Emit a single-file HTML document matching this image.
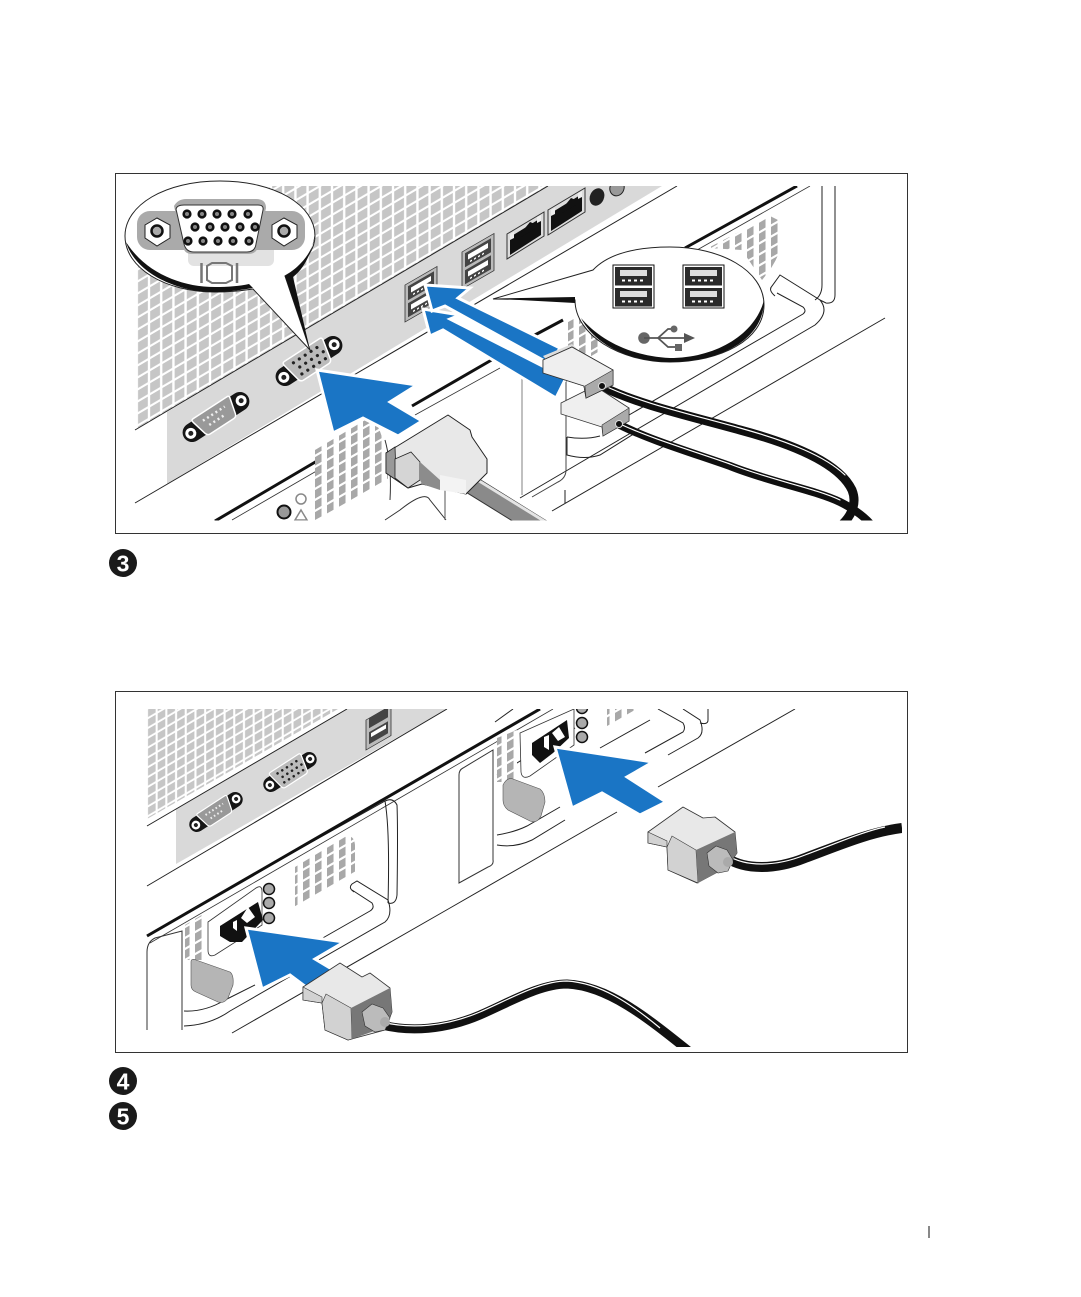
<!DOCTYPE html>
<html><head><meta charset="utf-8"><style>
html,body{margin:0;padding:0;background:#fff}
svg{display:block}
text{font-family:"Liberation Sans",sans-serif;font-weight:bold}
</style></head><body>
<svg xmlns="http://www.w3.org/2000/svg" width="1081" height="1297" viewBox="0 0 1081 1297">
<defs>
<pattern id="v" width="12.2" height="12" patternUnits="userSpaceOnUse" patternTransform="translate(137 186) skewY(-30.5)">
<rect width="12.2" height="12" fill="#fff"/><rect x="1" y="1" width="9.8" height="9.6" fill="#c6c6c6"/>
</pattern>
<pattern id="v2" width="9.7" height="9.8" patternUnits="userSpaceOnUse" patternTransform="translate(147 709) skewY(-30.5)">
<rect width="9.7" height="9.8" fill="#fff"/><rect x="1" y="1" width="7.6" height="7.6" fill="#c6c6c6"/>
</pattern>
<pattern id="vp" width="12" height="11" patternUnits="userSpaceOnUse" patternTransform="skewY(-30)">
<rect width="12" height="11" fill="#fff"/><rect x="3" y="1" width="6.5" height="8.5" fill="#a8a8a8"/>
</pattern>
<clipPath id="c1"><rect x="122" y="186" width="778" height="334.500"/></clipPath>
<clipPath id="c2"><rect x="122" y="709" width="780" height="338"/></clipPath>
<g id="vga">
<rect x="-38" y="-9.500" width="76" height="19" rx="9.500" fill="#151515"/>
<circle cx="-30" cy="0" r="5.500" fill="#fff"/><circle cx="-30" cy="0" r="2.500" fill="#222"/>
<circle cx="30" cy="0" r="5.500" fill="#fff"/><circle cx="30" cy="0" r="2.500" fill="#222"/>
<path d="M-21-13H21Q24-13 23-9L19 10Q18 13 15 13H-15Q-18 13-19 10L-23-9Q-24-13-21-13Z" fill="#bbb" stroke="#fff" stroke-width="1.500"/>
<g fill="#222"><circle cx="-14" cy="-7" r="1.600"/><circle cx="-7" cy="-7" r="1.600"/><circle cx="0" cy="-7" r="1.600"/><circle cx="7" cy="-7" r="1.600"/><circle cx="14" cy="-7" r="1.600"/>
<circle cx="-11" cy="0" r="1.600"/><circle cx="-4" cy="0" r="1.600"/><circle cx="3" cy="0" r="1.600"/><circle cx="10" cy="0" r="1.600"/><circle cx="17" cy="0" r="1.600"/>
<circle cx="-13" cy="7" r="1.600"/><circle cx="-6" cy="7" r="1.600"/><circle cx="1" cy="7" r="1.600"/><circle cx="8" cy="7" r="1.600"/><circle cx="15" cy="7" r="1.600"/></g>
</g>
<g id="ser">
<rect x="-38" y="-9.500" width="76" height="19" rx="9.500" fill="#151515"/>
<circle cx="-30" cy="0" r="5.500" fill="#fff"/><circle cx="-30" cy="0" r="2.500" fill="#222"/>
<circle cx="30" cy="0" r="5.500" fill="#fff"/><circle cx="30" cy="0" r="2.500" fill="#222"/>
<path d="M-20-11H20Q23-11 22-8L18 8Q17 11 14 11H-14Q-17 11-18 8L-22-8Q-23-11-20-11Z" fill="#999" stroke="#fff" stroke-width="1.500"/>
<path d="M-13-4H13M-10 3H10" stroke="#eee" stroke-width="2.500" stroke-dasharray="2 3"/>
</g>
<g id="usb">
<rect x="0" y="0" width="32" height="37" fill="#bbb" stroke="#333" stroke-width=".8"/>
<rect x="3" y="3" width="26" height="14" fill="#444"/><rect x="3" y="20" width="26" height="14" fill="#444"/>
<rect x="6" y="6" width="20" height="5" fill="#fff"/><rect x="6" y="23" width="20" height="5" fill="#fff"/>
<path d="M8 14h16M8 31h16" stroke="#fff" stroke-width="1.500" stroke-dasharray="2 2"/>
</g>
<g id="uk">
<rect x="0" y="0" width="41" height="43" fill="#fff" stroke="#111" stroke-width="1"/>
<rect x="2" y="2" width="37" height="18.500" fill="#2a2a2a"/><rect x="2" y="23" width="37" height="18.500" fill="#2a2a2a"/>
<rect x="7" y="5" width="27" height="6" fill="#ddd"/><rect x="7" y="26" width="27" height="6" fill="#ddd"/>
<path d="M9 15.500h23M9 36.500h23" stroke="#fff" stroke-width="2" stroke-dasharray="3 3"/>
</g>
<g id="rj">
<path d="M0 25 37 3V27L0 50Z" fill="#ddd" stroke="#333" stroke-width="1"/>
<path d="M3 28 34 9V26L3 46Z" fill="#111"/>
<path d="M14 24 23 13 28 15V20L14 28Z" fill="#111"/>
<path d="M3 25 7 23V29L3 31ZM30 8 34 6V12L30 14Z" fill="#eee"/>
</g>
</defs>
<rect width="1081" height="1297" fill="#fff"/>

<!-- PANEL 1 -->
<rect x="115.500" y="173.500" width="792" height="360" fill="#fff" stroke="#333" stroke-width="1"/>
<g clip-path="url(#c1)">
<polygon points="137,262 272,186 548,186 137,429" fill="url(#v)"/>
<polygon points="167,412 548,186 662,186 167,484" fill="#d9d9d9"/>
<g fill="none" stroke="#222" stroke-width="1">
<path d="M135 430 548 186M135 503 677 186"/>
<path d="M552 511 885 318"/>
<path d="M822 186V285Q822 295 815 300M835 186V295Q835 304 826 303L820 300"/>
<path d="M775 296Q768 290 772 286L780 275 820 300Q830 312 815 325L520 498"/>
<path d="M777 293 803 307Q807 311 803 314L610 426"/>
<path d="M567 437V455Q585 460 600 455L640 430M567 437Q585 440 600 436"/>
<path d="M565 503V490"/>
</g>
<path d="M522 376V495" stroke="#aaa" stroke-width="1.500" fill="none"/>
<path d="M566 380V470Q566 478 558 482L532 497" stroke="#444" fill="none"/>
<path d="M215 521 368 431M412 406 495 358M533 336 563 320M685 248 797 186" stroke="#111" stroke-width="3"/>
<path d="M232 520 370 440M415 415 500 368M690 254 810 186" stroke="#333" stroke-width=".8" fill="none"/>
<!-- right PSU vent -->
<path d="M708 248 770 216 778 220Q781 230 780 250 775 265 762 280L742 250Z" fill="url(#vp)"/>
<path d="M568 322 598 306V352L568 370Z" fill="url(#vp)"/>
<!-- lower PSU vent -->
<path d="M315 450 372 416Q388 440 388 480L315 520Z" fill="url(#vp)"/>
<path d="M385 440Q392 465 390 500M385 520 400 510Q425 490 430 500L446 520" stroke="#333" fill="none"/>
<path d="M445 520V470" stroke="#555" fill="none"/>
<circle cx="284" cy="512" r="6.500" fill="#999" stroke="#111" stroke-width="2"/>
<circle cx="301" cy="499" r="5" fill="none" stroke="#888" stroke-width="1.500"/>
<path d="M301 510 307 520H295Z" fill="none" stroke="#888" stroke-width="1.500"/>
<!-- ports -->
<use href="#vga" transform="translate(309 361) rotate(-33)"/>
<use href="#ser" transform="translate(216 417) rotate(-33)"/>
<g transform="translate(405 285) skewY(-30)"><use href="#usb"/></g>
<g transform="translate(462 252) skewY(-30)"><use href="#usb"/></g>
<use href="#rj" transform="translate(507 209)"/>
<use href="#rj" transform="translate(548 185)"/>
<ellipse cx="597" cy="197" rx="7" ry="9" fill="#222" transform="rotate(25 597 197)"/>
<ellipse cx="617" cy="188" rx="7" ry="8" fill="#999" stroke="#222" transform="rotate(25 617 188)"/>
<!-- VGA arrow -->
<polygon points="317,370 417,385 390,402 422,421 398,436 363,418 333,433" fill="#1a75c5" stroke="#fff" stroke-width="3" stroke-linejoin="miter"/>
<!-- USB arrows -->
<polygon points="423,309 460,315 450,319 566,378 556,398 443,330 430,336" fill="#1a75c5" stroke="#fff" stroke-width="3"/>
<polygon points="425,285 470,288 458,298 560,348 550,364 445,306 432,311" fill="#1a75c5" stroke="#fff" stroke-width="3"/>
<!-- DB connector -->
<path d="M470 484 565 543" stroke="#333" stroke-width="19" fill="none"/>
<path d="M470 484 565 543" stroke="#8a8a8a" stroke-width="17" fill="none"/>
<path d="M476 479 570 537" stroke="#e4e4e4" stroke-width="3" fill="none"/>
<path d="M386 453 448 415 470 430 472 437 487 459V473L466 494 422 484 408 488 386 473Z" fill="#e8e8e8" stroke="#222" stroke-width="1" stroke-linejoin="round"/>
<path d="M386 453 395 447 396 473 408 488 386 473Z" fill="#999" stroke="#222" stroke-width=".8"/>
<path d="M395 459 411 452 420 462 420 480 408 488 395 478Z" fill="#d5d5d5" stroke="#222" stroke-width=".8"/>
<path d="M420 462 440 480 440 490 422 484 420 480Z" fill="#8c8c8c"/>
<path d="M440 475 466 480 466 494 440 490Z" fill="#f3f3f3"/>
<!-- cables -->
<g fill="none" stroke-linecap="round">
<path d="M620 425C650 440 690 452 730 466 770 482 815 490 840 502 860 512 870 522 875 530" stroke="#0f0f0f" stroke-width="8"/>
<path d="M620 424C650 438 690 450 730 464 770 480 815 488 840 500" stroke="#fff" stroke-width="1.200"/>
<path d="M603 387C640 405 690 416 740 430 800 446 840 465 852 490 858 505 850 520 835 530" stroke="#0f0f0f" stroke-width="9"/>
<path d="M603 385C640 403 690 414 740 428 790 442 825 456 845 475" stroke="#fff" stroke-width="1.200"/>
</g>
<path d="M561 403 595 386 629 408V421L603 436 602 427 561 414Z" fill="#efefef" stroke="#333" stroke-width=".8"/>
<path d="M602 425 629 408V421L603 436Z" fill="#aaa" stroke="#333" stroke-width=".6"/>
<circle cx="619" cy="424" r="3.500" fill="#111" stroke="#ddd" stroke-width="1"/>
<path d="M543 356 572 344 578 350 550 364Z" fill="#ddd"/>
<path d="M543 360 572 347 613 370V385L586 398 584 386 543 373Z" fill="#efefef" stroke="#333" stroke-width=".8"/>
<path d="M585 386 613 370V385L586 398Z" fill="#aaa" stroke="#333" stroke-width=".6"/>
<circle cx="602" cy="386" r="3.500" fill="#111" stroke="#ddd" stroke-width="1"/>
</g>
<!-- bubble 1 -->
<path d="M125 236C125 205 165 181 220 181 275 181 315 205 315 236 315 252 300 268 285 276L310 350 253 289C240 291 225 292 215 292 165 292 125 268 125 236Z" fill="#fff" stroke="#222" stroke-width="1"/>
<path d="M126 242C135 272 175 292 215 292 228 292 240 290 253 288L249 284C240 286 228 287 215 287 180 287 145 272 126 242Z" fill="#111"/>
<path d="M315 232C315 252 298 268 285 276L310 350 293 277C305 268 313 250 315 232Z" fill="#111"/>
<rect x="188" y="240" width="86" height="26" rx="6" fill="#e2e2e2"/>
<rect x="137" y="211" width="168" height="39" rx="13" fill="#aaa"/>
<path d="M174 206Q178 199 186 199H256Q266 199 266 208L258 246Q257 254 248 254H192Q184 254 183 246Z" fill="#aaa"/>
<path d="M176 209Q177 205 184 205H258Q264 205 263 210L256 244Q255 252 247 252H194Q186 252 184 244Z" fill="#fff" stroke="#333" stroke-width="1"/>
<polygon points="157,218 170,225 170,238 157,246 145,238 145,225" fill="#fff" stroke="#222" stroke-width="1"/>
<circle cx="157" cy="231" r="5.500" fill="#aaa" stroke="#111" stroke-width="2.500"/>
<polygon points="284,218 297,225 297,238 284,246 272,238 272,225" fill="#fff" stroke="#222" stroke-width="1"/>
<circle cx="284" cy="231" r="5.500" fill="#aaa" stroke="#111" stroke-width="2.500"/>
<g fill="#888" stroke="#111" stroke-width="2.600">
<circle cx="187" cy="214" r="3.300"/><circle cx="202" cy="214" r="3.300"/><circle cx="217" cy="214" r="3.300"/><circle cx="232" cy="214" r="3.300"/><circle cx="248" cy="214" r="3.300"/>
<circle cx="195" cy="227" r="3.300"/><circle cx="210" cy="227" r="3.300"/><circle cx="225" cy="227" r="3.300"/><circle cx="240" cy="227" r="3.300"/><circle cx="255" cy="227" r="3.300"/>
<circle cx="188" cy="241" r="3.300"/><circle cx="203" cy="241" r="3.300"/><circle cx="218" cy="241" r="3.300"/><circle cx="233" cy="241" r="3.300"/><circle cx="249" cy="241" r="3.300"/>
</g>
<path d="M201.500 263V283M237 263V283" stroke="#777" stroke-width="2.500"/>
<path d="M207 266 212 263H226L232 266V280L226 283H212L207 280Z" fill="none" stroke="#777" stroke-width="2"/>
<!-- bubble 2 -->
<path d="M593 270C610 252 640 247 670 247 720 247 764 270 764 305 764 340 720 362 670 362 620 362 575 335 575 300L493 299Z" fill="#fff" stroke="#222" stroke-width="1"/>
<path d="M493 298.500 575 297 575 303Z" fill="#111"/>
<path d="M764 300C764 340 720 362 670 362 630 362 595 345 581 318 600 340 630 356 670 358 715 358 755 335 764 300Z" fill="#111"/>
<use href="#uk" x="613" y="265"/><use href="#uk" x="683" y="265"/>
<circle cx="644" cy="338" r="5.800" fill="#666"/>
<path d="M644 338H684" stroke="#555" stroke-width="1.800"/>
<polygon points="684,333 695,338 684,343" fill="#555"/>
<path d="M658 338 668 329 674 329M658 338 668 347 676 347" stroke="#555" stroke-width="1.800" fill="none"/>
<circle cx="674" cy="329" r="3.500" fill="#666"/>
<rect x="675" y="344" width="7" height="7" fill="#666"/>
<!-- re-draw plug tip over bubble edge -->
<g clip-path="url(#c1)">
<path d="M543 360 572 347 613 370V385L586 398 584 386 543 373Z" fill="#efefef" stroke="#333" stroke-width=".8"/>
<path d="M585 386 613 370V385L586 398Z" fill="#aaa" stroke="#333" stroke-width=".6"/>
<circle cx="602" cy="386" r="3.500" fill="#111" stroke="#ddd" stroke-width="1"/>
</g>

<!-- circled numbers -->
<circle cx="123" cy="563" r="14" fill="#1a1a1a"/>
<text x="123" y="571.500" font-size="23" fill="#fff" text-anchor="middle">3</text>
<circle cx="123" cy="1081" r="14" fill="#1a1a1a"/>
<text x="123" y="1089.500" font-size="23" fill="#fff" text-anchor="middle">4</text>
<circle cx="123" cy="1116" r="14" fill="#1a1a1a"/>
<text x="123" y="1124.500" font-size="23" fill="#fff" text-anchor="middle">5</text>
<path d="M929 1226V1238" stroke="#111" stroke-width="1"/>

<!-- PANEL 2 -->
<rect x="115.500" y="691.500" width="792" height="361" fill="#fff" stroke="#333" stroke-width="1"/>
<g clip-path="url(#c2)">
<polygon points="147,709 338,709 147,819" fill="url(#v2)"/>
<polygon points="176,809 347,709 447,709 176,864" fill="#d9d9d9"/>
<g fill="none" stroke="#222" stroke-width="1">
<path d="M147 826 347 709M147 886 447 709"/>
<path d="M232 1033 450 908 617 812M658 787 795 709"/>
<!-- frames -->
<path d="M147 1030V952Q147 942 155 938L182 931V1030" stroke="#333"/>
<path d="M459 883V775Q459 770 463 768L493 750V860Q494 865 488 867L459 883Z" stroke="#333"/>
<!-- left PSU outline -->
<path d="M185 913 385 801Q393 797 397 805Q398 830 397 895Q396 905 388 903M385 801Q390 830 388 903"/>
<path d="M354 892Q348 888 352 884L357 881 388 900Q393 915 385 922L230 1011Q210 1025 184 1026"/>
<path d="M352 890 372 903Q375 908 370 911L258 975M184 1011Q205 1012 225 1000L255 985"/>
<!-- right PSU outline -->
<path d="M497 775 575 728M513 709 495 722"/>
<path d="M600 748 650 720M645 753 683 732Q686 728 683 723L658 709"/>
<path d="M668 755 698 738Q705 733 700 720L683 709M708 709V720Q708 725 700 723"/>
<path d="M497 835Q515 832 527 826L560 807M497 845Q515 848 532 840L565 820"/>
</g>
<path d="M147 936 540 709" stroke="#111" stroke-width="3"/>
<path d="M150 943 553 709" stroke="#333" stroke-width=".8"/>
<!-- ports -->
<use href="#vga" transform="translate(290 772) rotate(-33) scale(.8)"/>
<use href="#ser" transform="translate(216 812) rotate(-33) scale(.8)"/>
<g transform="translate(366 720) skewY(-30)"><rect width="25" height="30" fill="#bbb" stroke="#333" stroke-width=".8"/><rect x="3" y="0" width="19" height="10" fill="#444"/><rect x="3" y="14" width="19" height="12" fill="#444"/><rect x="5" y="16" width="15" height="4" fill="#fff"/></g>
<!-- left PSU parts -->
<path d="M295 867 345 837Q354 834 355 845V872L295 908Z" fill="url(#vp)"/>
<path d="M185 925 205 913V960H185Z" fill="url(#vp)"/>
<path d="M208 922 256 888Q262 884 262 892V925L215 955Q208 958 208 950Z" fill="#fff" stroke="#333" stroke-width=".8"/>
<path d="M220 926 258 902 263 920 242 942 230 942 220 936Z" fill="#111"/>
<path d="M233 922 237 920V931L233 928ZM241 918 248 907 255 917 247 923Z" fill="#fff"/>
<circle cx="269" cy="889" r="5.500" fill="#aaa" stroke="#111" stroke-width="1.500"/>
<circle cx="269" cy="903" r="5.500" fill="#aaa" stroke="#111" stroke-width="1.500"/>
<circle cx="269" cy="918" r="5.500" fill="#aaa" stroke="#111" stroke-width="1.500"/>
<path d="M191 962Q191 958 196 960L230 972Q234 975 233 985L228 998Q224 1004 218 1002L196 992Q191 990 191 985Z" fill="#b5b5b5" stroke="#555" stroke-width=".6"/>
<!-- right PSU parts -->
<path d="M607 727 637 709H607Z" fill="url(#vp)"/>
<path d="M497 738 517 730V782H497Z" fill="url(#vp)"/>
<path d="M520 733 574 709V745L530 776Q522 780 521 772Z" fill="#fff" stroke="#333" stroke-width=".8"/>
<path d="M532 743 567 720 569 738 553 753 540 763 532 755Z" fill="#111"/>
<path d="M544 737 549 735V750L544 747ZM552 733 559 727 565 737 558 741Z" fill="#fff"/>
<circle cx="582" cy="708" r="5.500" fill="#aaa" stroke="#111" stroke-width="1.500"/>
<circle cx="582" cy="723" r="5.500" fill="#aaa" stroke="#111" stroke-width="1.500"/>
<circle cx="582" cy="737" r="5.500" fill="#aaa" stroke="#111" stroke-width="1.500"/>
<path d="M503 785Q507 777 513 779L540 789Q545 793 545 802L541 816Q537 824 530 821L508 810Q503 806 503 800Z" fill="#b5b5b5" stroke="#555" stroke-width=".6"/>
<!-- arrows -->
<polygon points="246,928 344,942 315,959 335,971 310,990 290,975 262,989" fill="#1a75c5" stroke="#fff" stroke-width="3"/>
<polygon points="555,747 653,762 627,777 666,802 640,815 602,793 572,808" fill="#1a75c5" stroke="#fff" stroke-width="3"/>
<!-- cables -->
<g fill="none">
<path d="M382 1025C410 1032 445 1030 480 1015 510 1002 540 984 567 984 610 986 650 1020 700 1060" stroke="#111" stroke-width="9"/>
<path d="M382 1022C410 1029 445 1027 480 1012 510 999 540 981 567 981 600 983 630 1003 660 1028" stroke="#fff" stroke-width="1.200"/>
<path d="M727 858C745 870 775 870 805 858 840 845 870 832 902 828" stroke="#111" stroke-width="10"/>
<path d="M727 855C745 867 775 867 805 855 840 842 865 831 885 827" stroke="#fff" stroke-width="1.200"/>
</g>
<!-- plugs -->
<path d="M303 987 340 963 362 977 370 973 390 988 392 1012 385 1030 348 1040 325 1030 322 1003 303 1000Z" fill="#e8e8e8" stroke="#333" stroke-width=".8" stroke-linejoin="round"/>
<path d="M303 987 322 997 322 1003 303 1000ZM322 1003 326 994 351 1008 352 1039 348 1040 325 1030Z" fill="#d2d2d2" stroke="#333" stroke-width=".6"/>
<path d="M351 1008 390 988 392 1012 385 1027 352 1039Z" fill="#777"/>
<path d="M362 1012 372 1004 383 1008 390 1018 385 1030 375 1032 365 1026Z" fill="#bbb" stroke="#333" stroke-width=".6"/>
<circle cx="385" cy="1022" r="5" fill="#aaa"/>
<path d="M648 832 683 807 703 818 715 817 735 832 737 853 727 867 697 883 668 870 667 847 648 843Z" fill="#e8e8e8" stroke="#333" stroke-width=".8" stroke-linejoin="round"/>
<path d="M648 832 667 841 667 847 648 843ZM667 847 672 836 696 850 698 883 668 870Z" fill="#d2d2d2" stroke="#333" stroke-width=".6"/>
<path d="M696 850 735 832 737 853 727 867 698 883Z" fill="#777"/>
<path d="M707 853 716 846 727 850 733 860 728 871 718 873 709 866Z" fill="#bbb" stroke="#333" stroke-width=".6"/>
<circle cx="728" cy="862" r="5" fill="#aaa"/>
</g>
</svg>
</body></html>
